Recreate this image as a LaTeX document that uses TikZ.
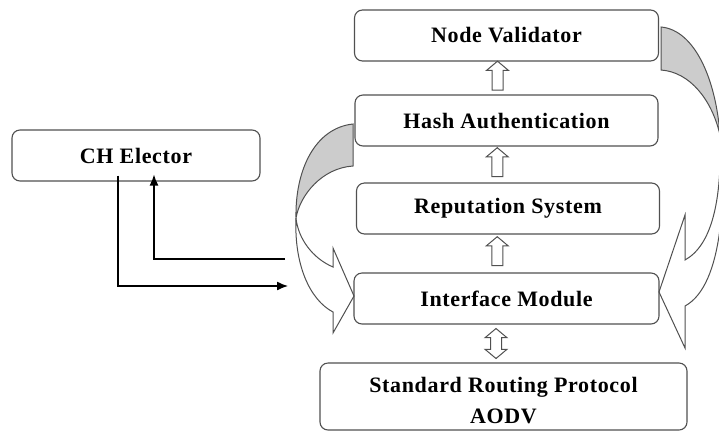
\documentclass[tikz,border=0pt]{standalone}
\usepackage{fontspec}
\setmainfont{Liberation Serif}
\usepackage{tikz}
\usetikzlibrary{calc,shapes.arrows,arrows.meta}

\definecolor{boxgray}{RGB}{80,80,80}
\definecolor{backgray}{RGB}{204,204,204}

\tikzset{
	box/.style={draw=boxgray, line width=1.1pt, rounded corners=8pt, minimum height=51pt,
		inner sep=0pt, align=center, font=\addfontfeature{LetterSpace=3}\bfseries\fontsize{22}{31}\selectfont},
	uparr/.style={single arrow, draw=boxgray, fill=white, line width=1pt, rotate=90,
		minimum height=29pt, inner sep=5pt, single arrow head extend=5.5pt,
		single arrow tip angle=100},
	botharr/.style={double arrow, draw=boxgray, fill=white, line width=1pt, rotate=90,
		minimum height=30pt, inner sep=5pt, double arrow head extend=5.5pt,
		double arrow tip angle=100},
	twist/.style={draw=boxgray, line width=1pt},
	link/.style={line width=1.3pt, -{Latex[length=11pt,width=9pt]}}
}

\begin{document}
\begin{tikzpicture}[x=1pt,y=-1pt]
	\useasboundingbox (0,0) rectangle (719,432);

	% curved arrows behind the stack
	\filldraw[twist, fill=backgray] (353,124) .. controls (315,128) and (295,170) .. (296,218)
		.. controls (300,195) and (322,168) .. (353,166) -- cycle;
	\filldraw[twist, fill=white] (296,218) .. controls (298,238) and (312,258) .. (333,267)
		-- (333,248) -- (354,296) -- (333,333) -- (333,312)
		.. controls (310,300) and (294,265) .. (296,218) -- cycle;
	\filldraw[twist, fill=backgray] (661,27) .. controls (695,30) and (716,80) .. (720,135)
		.. controls (712,100) and (690,72) .. (661,70) -- cycle;
	\filldraw[twist, fill=white] (720,135) .. controls (722,200) and (712,245) .. (685,260)
		-- (685,215) -- (659,292) -- (685,348) -- (685,306)
		.. controls (724,285) and (726,190) .. (720,135) -- cycle;

	% the stack
	\node[box, minimum width=304pt] (nv) at (506.5,35.5) {Node Validator};
	\node[box, minimum width=303pt] (ha) at (506.5,120.5) {Hash Authentication};
	\node[box, minimum width=303pt] (rs) at (508,208.5) {Reputation System};
	\node[box, minimum width=305pt] (im) at (506.5,298.5) {Interface Module};
	\node[box, minimum width=367pt, minimum height=67pt] (srp) at (503.5,396.5)
		{\rule{0pt}{24pt}Standard Routing Protocol\\AODV};
	\node[box, minimum width=248pt] (ch) at (136,155.5) {CH Elector};

	% hollow arrows between layers
	\node[uparr] (up1) at ($(ha.north)!0.5!(nv.south)+(-9,0)$) {};
	\node[uparr] (up2) at ($(rs.north)!0.5!(ha.south)+(-10,0)$) {};
	\node[uparr] (up3) at ($(im.north)!0.5!(rs.south)+(-10,0)$) {};
	\node[botharr] (up4) at ($(srp.north)!0.5!(im.south)+(-9,0)$) {};

	% CH Elector links
	\coordinate (chout) at ([yshift=6pt]ch.south -| 118,0);
	\coordinate (toim) at (288,286);
	\coordinate (fromim) at (285,259);
	\coordinate (chin) at ([yshift=7pt]ch.south -| 154,0);
	\draw[link] (chout) |- (toim);
	\draw[link] (fromim) -| (chin);
\end{tikzpicture}
\end{document}
